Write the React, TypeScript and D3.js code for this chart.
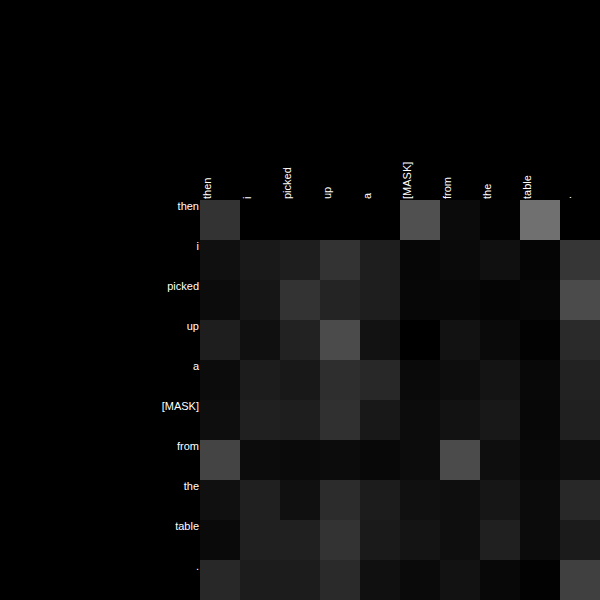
import React from 'react';
import * as d3 from 'd3';

// tokens (rows = queries, columns = keys)
const tokens = ['then', 'i', 'picked', 'up', 'a', '[MASK]', 'from', 'the', 'table', '.'];

// attention weights, one array per row
const rowThen = [0.200, 0.000, 0.000, 0.000, 0.000, 0.314, 0.043, 0.008, 0.439, 0.000];
const rowI = [0.063, 0.098, 0.118, 0.200, 0.118, 0.024, 0.039, 0.063, 0.020, 0.212];
const rowPicked = [0.047, 0.086, 0.200, 0.141, 0.118, 0.027, 0.027, 0.020, 0.024, 0.294];
const rowUp = [0.118, 0.063, 0.133, 0.294, 0.071, 0.000, 0.071, 0.039, 0.008, 0.165];
const rowA = [0.047, 0.110, 0.094, 0.180, 0.157, 0.039, 0.051, 0.078, 0.031, 0.133];
const rowMask = [0.055, 0.125, 0.118, 0.188, 0.094, 0.047, 0.071, 0.094, 0.027, 0.125];
const rowFrom = [0.267, 0.047, 0.039, 0.047, 0.031, 0.047, 0.294, 0.055, 0.031, 0.055];
const rowThe = [0.063, 0.125, 0.063, 0.173, 0.110, 0.063, 0.055, 0.086, 0.043, 0.157];
const rowTable = [0.039, 0.125, 0.125, 0.200, 0.102, 0.078, 0.055, 0.125, 0.043, 0.106];
const rowDot = [0.157, 0.110, 0.110, 0.165, 0.063, 0.039, 0.071, 0.031, 0.008, 0.251];

const matrix = [rowThen, rowI, rowPicked, rowUp, rowA, rowMask, rowFrom, rowThe, rowTable, rowDot];

export default function App() {
  const width = 600;
  const height = 600;
  const left = 200;
  const top = 200;

  const x = d3.scaleBand<string>().domain(tokens).range([left, width]);
  const y = d3.scaleBand<string>().domain(tokens).range([top, height]);
  const color = d3.scaleLinear<string>().domain([0, 1]).range(['#000000', '#ffffff']);

  const cells = matrix.flatMap((row, i) =>
    row.map((v, j) => ({ r: tokens[i], c: tokens[j], v, key: `${i}-${j}` }))
  );

  return (
    <svg
      width={width}
      height={height}
      style={{ position: 'fixed', left: 0, top: 0, background: '#000', display: 'block' }}
    >
      <rect x={0} y={0} width={width} height={height} fill="#000" />
      {cells.map(d => (
        <rect
          key={d.key}
          x={x(d.c)}
          y={y(d.r)}
          width={x.bandwidth()}
          height={y.bandwidth()}
          fill={color(d.v)}
        />
      ))}
      <g fontFamily="'Liberation Sans', Arial, sans-serif" fontSize={11} fill="#ffffff">
        {/* column labels, rotated, sitting on top of the grid */}
        {tokens.map(t => (
          <text
            key={'c' + t}
            transform={`translate(${(x(t) || 0) + 10.5},${top - 1}) rotate(-90)`}
            textAnchor="start"
          >
            {t}
          </text>
        ))}
        {/* row labels, right aligned at the top of each row */}
        {tokens.map(t => (
          <text key={'r' + t} x={left - 1} y={(y(t) || 0) + 10} textAnchor="end">
            {t}
          </text>
        ))}
      </g>
    </svg>
  );
}
